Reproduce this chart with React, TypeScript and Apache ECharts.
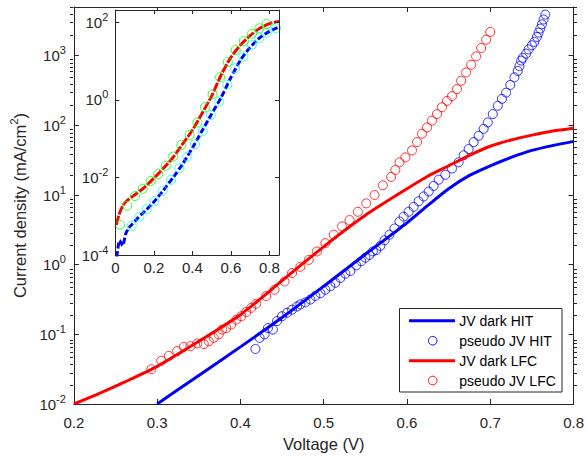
import React, { useEffect, useRef } from 'react';
import * as echarts from 'echarts';

// ---------- main plot data (Voltage V, current density mA/cm^2) ----------
const hitDarkV = [0.3, 0.35, 0.4, 0.45, 0.5, 0.55, 0.6, 0.625, 0.65, 0.675, 0.7, 0.725, 0.75, 0.775, 0.8];
const hitDarkJ = [0.01, 0.0257, 0.0661, 0.174, 0.49, 1.41, 3.98, 7.08, 12.3, 19.1, 26.3, 34.7, 43.7, 51.3, 58.9];

const lfcDarkV = [0.2, 0.23, 0.26, 0.3, 0.35, 0.4, 0.45, 0.5, 0.55, 0.6, 0.625, 0.65, 0.675, 0.7, 0.725, 0.75, 0.775, 0.8];
const lfcDarkJ = [0.01, 0.0141, 0.0204, 0.0347, 0.0794, 0.191, 0.589, 1.82, 5.13, 12.3, 18.6, 26.3, 37.2, 50.1, 61.7, 72.4, 83.2, 91.2];

const hitPseudoV = [0.418, 0.423, 0.429, 0.433, 0.439, 0.444, 0.45, 0.456, 0.462, 0.468, 0.472, 0.478, 0.484, 0.49, 0.496, 0.502, 0.508, 0.514, 0.52, 0.526, 0.532, 0.539, 0.545, 0.55, 0.555, 0.559, 0.563, 0.568, 0.573, 0.579, 0.585, 0.591, 0.596, 0.602, 0.608, 0.614, 0.62, 0.626, 0.632, 0.638, 0.646, 0.654, 0.662, 0.668, 0.674, 0.68, 0.686, 0.692, 0.697, 0.703, 0.709, 0.714, 0.719, 0.724, 0.729, 0.733, 0.735, 0.737, 0.739, 0.743, 0.746, 0.75, 0.753, 0.756, 0.758, 0.76, 0.762, 0.764, 0.766];
const hitPseudoJ = [0.0617, 0.0891, 0.1, 0.123, 0.117, 0.155, 0.182, 0.204, 0.226, 0.251, 0.269, 0.288, 0.316, 0.355, 0.389, 0.437, 0.49, 0.55, 0.646, 0.741, 0.813, 0.977, 1.12, 1.26, 1.38, 1.55, 1.62, 1.86, 2.24, 2.69, 3.31, 4.17, 4.9, 5.75, 6.76, 8.13, 9.55, 11.2, 13.5, 16.6, 19.5, 24.0, 29.5, 37.2, 45.7, 57.5, 70.8, 89.1, 110, 145, 191, 240, 295, 380, 490, 603, 708, 851, 933, 1070, 1230, 1410, 1580, 1860, 2140, 2450, 2820, 3310, 3890];

const lfcPseudoV = [0.293, 0.305, 0.314, 0.324, 0.332, 0.34, 0.348, 0.356, 0.362, 0.368, 0.374, 0.378, 0.383, 0.389, 0.395, 0.401, 0.407, 0.413, 0.419, 0.431, 0.441, 0.453, 0.462, 0.472, 0.482, 0.492, 0.502, 0.512, 0.522, 0.531, 0.541, 0.551, 0.561, 0.571, 0.581, 0.586, 0.591, 0.598, 0.606, 0.612, 0.618, 0.624, 0.63, 0.636, 0.642, 0.648, 0.654, 0.66, 0.665, 0.671, 0.677, 0.683, 0.689, 0.695, 0.7];
const lfcPseudoJ = [0.0316, 0.0417, 0.049, 0.0575, 0.0661, 0.0676, 0.0741, 0.0724, 0.0794, 0.0891, 0.1, 0.117, 0.123, 0.138, 0.162, 0.182, 0.209, 0.24, 0.275, 0.355, 0.437, 0.575, 0.759, 0.933, 1.17, 1.55, 2.04, 2.69, 3.55, 4.37, 5.75, 7.59, 10.0, 13.8, 18.2, 22.9, 29.5, 34.7, 43.7, 57.5, 75.9, 93.3, 117, 145, 182, 224, 263, 331, 437, 575, 741, 977, 1290, 1700, 2190];

// ---------- inset data ----------
const hitFitLineV = [0.008, 0.022, 0.038, 0.055, 0.07, 0.085, 0.12, 0.16, 0.2, 0.25, 0.3, 0.35, 0.4, 0.45, 0.5, 0.55, 0.6, 0.65, 0.7, 0.75, 0.8, 0.85];
const hitFitLineJ = [8.91e-5, 2.4e-4, 1.74e-4, 3.63e-4, 5.01e-4, 6.03e-4, 9.33e-4, 1.45e-3, 2.34e-3, 4.68e-3, 0.01, 0.0224, 0.0575, 0.158, 0.437, 1.17, 3.8, 10.7, 22.9, 40.7, 58.9, 75.9];

const lfcFitLineV = [0.005, 0.02, 0.04, 0.06, 0.1, 0.15, 0.2, 0.25, 0.3, 0.35, 0.4, 0.45, 0.5, 0.55, 0.6, 0.65, 0.7, 0.75, 0.8, 0.85];
const lfcFitLineJ = [6.03e-4, 1.12e-3, 1.91e-3, 2.51e-3, 3.55e-3, 5.5e-3, 9.55e-3, 0.0174, 0.0331, 0.0741, 0.166, 0.447, 1.26, 4.47, 12.6, 26.3, 45.7, 70.8, 93.3, 107];

const hitFitV = [0.085, 0.125, 0.163, 0.203, 0.246, 0.289, 0.333, 0.374, 0.414, 0.454, 0.496, 0.539, 0.582, 0.622, 0.665, 0.709, 0.748, 0.786, 0.835];
const hitFitJ = [5.62e-4, 9.77e-4, 1.51e-3, 2.45e-3, 4.57e-3, 8.71e-3, 0.0174, 0.0347, 0.0724, 0.158, 0.407, 0.912, 2.45, 6.61, 13.2, 26.3, 39.8, 55.0, 70.8];

const lfcFitV = [0.025, 0.062, 0.102, 0.143, 0.184, 0.223, 0.262, 0.301, 0.343, 0.386, 0.426, 0.466, 0.505, 0.544, 0.584, 0.625, 0.667, 0.709, 0.748, 0.786];
const lfcFitJ = [6.03e-4, 1.86e-3, 3.31e-3, 5.13e-3, 8.13e-3, 0.0123, 0.02, 0.0347, 0.0692, 0.126, 0.263, 0.646, 1.41, 3.89, 9.55, 19.5, 33.1, 51.3, 70.8, 91.2];

// ---------- axes ----------
const mainYMinJ = 0.01;
const mainYMaxJ = 5000;
const insetYMinJ = 1e-4;
const insetYMaxJ = 210;
const mainXTicks = [0.2, 0.8, 0.1];
const insetXTicks = [0, 0.85, 0.2];
const legendMain = ['JV dark HIT', 'pseudo JV HIT', 'JV dark LFC', 'pseudo JV LFC'];
const legendInset = ['HIT fit', 'LFC fit'];

const FONT = '"Liberation Sans", Arial, Helvetica, sans-serif';
const AX = '#262626';

const pairs = (v: number[], j: number[]) => v.map((x, i) => [x, Math.log10(j[i])]);

const supFormatter = (v: number) => {
  const n = Math.round(v);
  if (Math.abs(v - n) > 1e-6) return '';
  return `{b|10}{s|${n}}`;
};
const supRich = {
  b: { fontSize: 15, lineHeight: 22, color: AX, fontFamily: FONT },
  s: { fontSize: 11, lineHeight: 11, verticalAlign: 'top', color: AX, fontFamily: FONT },
};

const minorValues: number[] = [];
for (let n = Math.round(Math.log10(mainYMinJ)); n < Math.log10(mainYMaxJ); n++) {
  for (let k = 2; k <= 9; k++) {
    const val = Math.log10(k * Math.pow(10, n));
    if (val <= Math.log10(mainYMaxJ) + 1e-9) minorValues.push(val);
  }
}

export default function App() {
  const ref = useRef<HTMLDivElement>(null);
  useEffect(() => {
    const chart = echarts.init(ref.current!, undefined, { renderer: 'svg' });
    const mainGrid = { left: 70, top: 7, width: 507, height: 399.7 };
    const lineAx = { show: true, onZero: false, lineStyle: { color: AX, width: 1 } };
    const noLine = { show: false, onZero: false };
    const yMin = Math.log10(mainYMinJ);
    const yMax = Math.log10(mainYMaxJ);
    const iyMin = Math.log10(insetYMinJ);
    const iyMax = Math.log10(insetYMaxJ);

    const option: any = {
      animation: false,
      backgroundColor: '#ffffff',
      textStyle: { fontFamily: FONT },
      grid: [
        { ...mainGrid, show: false },
        { left: 115.3, top: 10, width: 163.7, height: 245, show: true, backgroundColor: '#ffffff', borderWidth: 0, z: 5 },
        { ...mainGrid, show: false },
      ],
      xAxis: [
        {
          gridIndex: 0, type: 'value', position: 'bottom',
          min: mainXTicks[0], max: mainXTicks[1], interval: mainXTicks[2],
          axisLine: lineAx,
          axisTick: { show: true, inside: true, length: 5, lineStyle: { color: AX } },
          axisLabel: { margin: 11, fontSize: 15, color: AX, formatter: (v: number) => v.toFixed(1) },
          splitLine: { show: false },
          name: 'Voltage (V)', nameLocation: 'middle', nameGap: 31,
          nameTextStyle: { fontSize: 16.5, color: AX, fontFamily: FONT },
        },
        {
          gridIndex: 0, type: 'value', position: 'top',
          min: mainXTicks[0], max: mainXTicks[1], interval: mainXTicks[2],
          axisLine: lineAx,
          axisTick: { show: true, inside: true, length: 5, lineStyle: { color: AX } },
          axisLabel: { show: false }, splitLine: { show: false },
        },
        { gridIndex: 2, type: 'value', show: false, min: mainXTicks[0], max: mainXTicks[1], axisLine: noLine },
        {
          gridIndex: 1, type: 'value', position: 'bottom', z: 7,
          min: insetXTicks[0], max: insetXTicks[1], interval: insetXTicks[2],
          axisLine: lineAx,
          axisTick: { show: true, inside: true, length: 4, lineStyle: { color: AX } },
          axisLabel: {
            margin: 4.5, fontSize: 15, color: AX,
            formatter: (v: number) => {
              if (Math.abs(v * 5 - Math.round(v * 5)) > 1e-6) return '';
              return v === 0 ? '0' : v.toFixed(1);
            },
          },
          splitLine: { show: false },
        },
        {
          gridIndex: 1, type: 'value', position: 'top', z: 7,
          min: insetXTicks[0], max: insetXTicks[1], interval: insetXTicks[2],
          axisLine: lineAx,
          axisTick: { show: true, inside: true, length: 4, lineStyle: { color: AX } },
          axisLabel: { show: false }, splitLine: { show: false },
        },
      ],
      yAxis: [
        {
          gridIndex: 0, type: 'value', position: 'left', min: yMin, max: yMax, interval: 1,
          axisLine: lineAx,
          axisTick: { show: true, inside: true, length: 5, lineStyle: { color: AX } },
          axisLabel: { margin: 8, formatter: supFormatter, rich: supRich },
          splitLine: { show: false },
          name: '{a|Current density (mA/cm}{s|2}{a|)}', nameLocation: 'middle', nameGap: 36,
          nameTextStyle: {
            rich: {
              a: { fontSize: 16.5, lineHeight: 24, color: AX, fontFamily: FONT },
              s: { fontSize: 11.5, lineHeight: 13, verticalAlign: 'top', color: AX, fontFamily: FONT },
            },
          },
        },
        {
          gridIndex: 0, type: 'value', position: 'right', min: yMin, max: yMax, interval: 1,
          axisLine: lineAx,
          axisTick: { show: true, inside: true, length: 5, lineStyle: { color: AX } },
          axisLabel: { show: false }, splitLine: { show: false },
        },
        {
          gridIndex: 2, type: 'value', position: 'left', min: yMin, max: yMax,
          axisLine: noLine,
          axisTick: { show: true, inside: true, length: 3, lineStyle: { color: AX }, customValues: minorValues },
          axisLabel: { show: false }, splitLine: { show: false },
        },
        {
          gridIndex: 2, type: 'value', position: 'right', min: yMin, max: yMax,
          axisLine: noLine,
          axisTick: { show: true, inside: true, length: 3, lineStyle: { color: AX }, customValues: minorValues },
          axisLabel: { show: false }, splitLine: { show: false },
        },
        {
          gridIndex: 1, type: 'value', position: 'left', min: iyMin, max: iyMax, interval: 2, z: 7,
          axisLine: lineAx,
          axisTick: { show: true, inside: true, length: 4, lineStyle: { color: AX } },
          axisLabel: { margin: 7, formatter: supFormatter, rich: supRich },
          splitLine: { show: false },
        },
        {
          gridIndex: 1, type: 'value', position: 'right', min: iyMin, max: iyMax, interval: 2, z: 7,
          axisLine: lineAx,
          axisTick: { show: true, inside: true, length: 4, lineStyle: { color: AX } },
          axisLabel: { show: false }, splitLine: { show: false },
        },
      ],
      series: [
        {
          name: legendMain[0], type: 'line', xAxisIndex: 0, yAxisIndex: 0,
          data: pairs(hitDarkV, hitDarkJ), symbol: 'none', smooth: 0.25,
          lineStyle: { color: '#0000ff', width: 3 },
        },
        {
          name: legendMain[1], type: 'scatter', xAxisIndex: 0, yAxisIndex: 0,
          data: pairs(hitPseudoV, hitPseudoJ), symbol: 'circle', symbolSize: 9,
          itemStyle: { color: 'rgba(0,0,0,0)', borderColor: '#0000ff', borderWidth: 1 },
        },
        {
          name: legendMain[2], type: 'line', xAxisIndex: 0, yAxisIndex: 0,
          data: pairs(lfcDarkV, lfcDarkJ), symbol: 'none', smooth: 0.25,
          lineStyle: { color: '#ff0000', width: 3 },
        },
        {
          name: legendMain[3], type: 'scatter', xAxisIndex: 0, yAxisIndex: 0,
          data: pairs(lfcPseudoV, lfcPseudoJ), symbol: 'circle', symbolSize: 9,
          itemStyle: { color: 'rgba(0,0,0,0)', borderColor: '#ff0000', borderWidth: 1 },
        },
        {
          name: legendInset[0], type: 'scatter', xAxisIndex: 3, yAxisIndex: 4, z: 6,
          data: pairs(hitFitV, hitFitJ), symbol: 'circle', symbolSize: 9,
          itemStyle: { color: 'rgba(0,0,0,0)', borderColor: '#00ffff', borderWidth: 1 },
        },
        {
          name: legendInset[1], type: 'scatter', xAxisIndex: 3, yAxisIndex: 4, z: 6,
          data: pairs(lfcFitV, lfcFitJ), symbol: 'circle', symbolSize: 9,
          itemStyle: { color: 'rgba(0,0,0,0)', borderColor: '#00ff00', borderWidth: 1 },
        },
        {
          name: 'HIT fit line', type: 'line', xAxisIndex: 3, yAxisIndex: 4, z: 6,
          data: pairs(hitFitLineV, hitFitLineJ), symbol: 'none', smooth: 0.2,
          lineStyle: { color: '#0000ff', width: 3, type: [6, 2.5] },
        },
        {
          name: 'LFC fit line', type: 'line', xAxisIndex: 3, yAxisIndex: 4, z: 6,
          data: pairs(lfcFitLineV, lfcFitLineJ), symbol: 'none', smooth: 0.25,
          lineStyle: { color: '#ff0000', width: 3, type: [9, 1.5] },
        },
      ],
      graphic: [
        {
          type: 'group', z: 20,
          children: [
            { type: 'rect', shape: { x: 399.5, y: 308.5, width: 162.5, height: 83.5 }, style: { fill: '#ffffff', stroke: AX, lineWidth: 1 } },
            { type: 'line', shape: { x1: 409, y1: 320.7, x2: 455, y2: 320.7 }, style: { stroke: '#0000ff', lineWidth: 3 } },
            { type: 'circle', shape: { cx: 432.7, cy: 340.7, r: 4.3 }, style: { fill: 'none', stroke: '#0000ff', lineWidth: 1 } },
            { type: 'line', shape: { x1: 409, y1: 360.7, x2: 455, y2: 360.7 }, style: { stroke: '#ff0000', lineWidth: 3 } },
            { type: 'circle', shape: { cx: 432.7, cy: 380.5, r: 4.3 }, style: { fill: 'none', stroke: '#ff0000', lineWidth: 1 } },
            { type: 'text', x: 459.3, y: 320.7, style: { text: legendMain[0], fill: '#000', fontSize: 14, fontFamily: FONT, verticalAlign: 'middle', align: 'left' } },
            { type: 'text', x: 459.3, y: 340.7, style: { text: legendMain[1], fill: '#000', fontSize: 14, fontFamily: FONT, verticalAlign: 'middle', align: 'left' } },
            { type: 'text', x: 459.3, y: 360.7, style: { text: legendMain[2], fill: '#000', fontSize: 14, fontFamily: FONT, verticalAlign: 'middle', align: 'left' } },
            { type: 'text', x: 459.3, y: 380.5, style: { text: legendMain[3], fill: '#000', fontSize: 14, fontFamily: FONT, verticalAlign: 'middle', align: 'left' } },
            { type: 'circle', shape: { cx: 198.3, cy: 216.7, r: 4.5 }, style: { fill: 'none', stroke: '#00ffff', lineWidth: 1 } },
            { type: 'circle', shape: { cx: 198.3, cy: 236.7, r: 4.5 }, style: { fill: 'none', stroke: '#00ff00', lineWidth: 1 } },
            { type: 'text', x: 225.7, y: 216.7, style: { text: legendInset[0], fill: '#000', fontSize: 14, fontFamily: FONT, verticalAlign: 'middle', align: 'left' } },
            { type: 'text', x: 225.7, y: 236.7, style: { text: legendInset[1], fill: '#000', fontSize: 14, fontFamily: FONT, verticalAlign: 'middle', align: 'left' } },
          ],
        },
      ],
    };
    chart.setOption(option);
    return () => chart.dispose();
  }, []);
  return (
    <div
      ref={ref}
      style={{ position: 'fixed', left: 0, top: 0, width: 587, height: 457, background: '#ffffff' }}
    />
  );
}
